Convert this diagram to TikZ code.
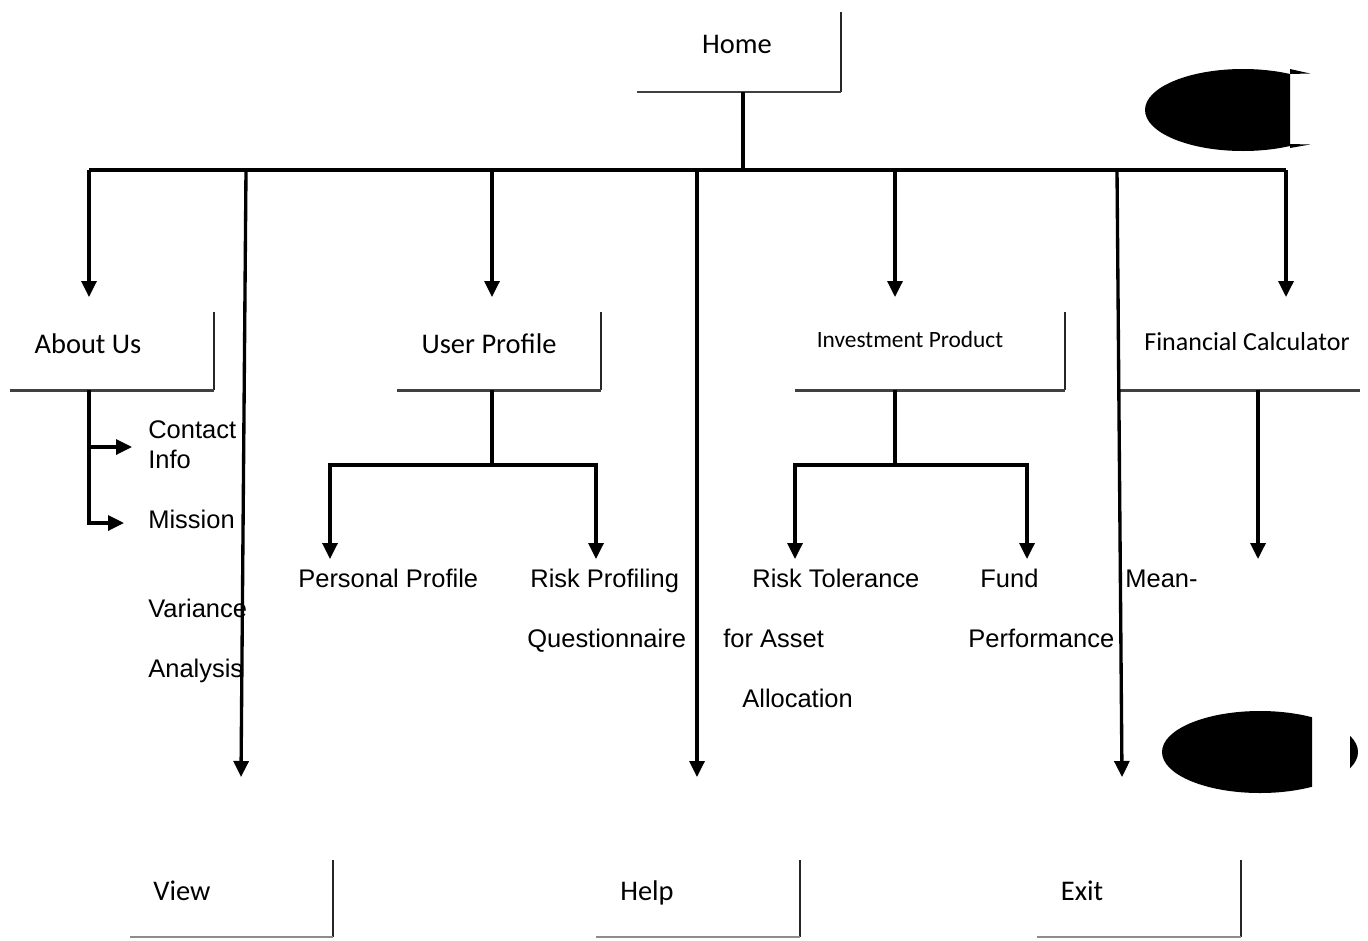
\documentclass[tikz,border=0pt]{standalone}
\usepackage{fontspec}
\setmainfont{Liberation Sans}
\newfontfamily\boxfont{Carlito}
\usetikzlibrary{arrows.meta,fit}

\tikzset{
  conn/.style={line width=1.9pt, black},
  arr/.style={conn, -{Triangle[length=0.32cm,width=0.3cm]}},
  boxtext/.style={font=\boxfont\fontsize{16.2}{19}\selectfont, inner sep=0pt, anchor=base},
  lbl/.style={font=\fontsize{14.5}{17}\selectfont, inner sep=0pt, anchor=base west},
  boxbottom/.style={line width=1.7pt, black!75},
  boxbottomlight/.style={line width=1.2pt, black!45},
  boxside/.style={line width=0.9pt, black!85},
  frame/.style={draw=none, inner sep=0pt, outer sep=0pt},
}

% menu box: name, bottom style, left, top, right, bottom, text x, text baseline, text
\newcommand\menubox[9]{%
  \node[frame, fit={(#3,#4) (#5,#6)}] (#1) {};
  \draw[boxside] (#1.north east) -- (#1.south east);
  \draw[#2] (#1.south west) -- (#1.south east);
  \node[boxtext] (#1-label) at (#7,#8) {#9};
}

\begin{document}
\begin{tikzpicture}[x=0.02cm, y=-0.02cm]
\useasboundingbox (0,0) rectangle (1368,940);

% menu boxes
\menubox{home}{boxbottom}{637}{12}{841}{92}{737}{53}{Home}
\menubox{about}{boxbottom}{10}{312}{214}{390}{88}{353}{About Us}
\menubox{user}{boxbottom}{397}{312}{601}{390}{489}{353}{User Profile}
\menubox{invest}{boxbottom}{795}{312}{1065}{390}{910}{347}{\fontsize{13.3}{15}\selectfont Investment Product}
\menubox{view}{boxbottomlight}{130}{860}{333}{937}{182}{900}{View}
\menubox{help}{boxbottomlight}{596}{860}{800}{937}{647}{900}{Help}
\menubox{exit}{boxbottomlight}{1037}{860}{1241}{937}{1082}{900}{Exit}

% financial calculator box (open to the right)
\node[frame, fit={(1120,312) (1360,390)}] (calc) {};
\draw[boxbottom] (calc.south west) -- (calc.south east);
\node[boxtext, font=\boxfont\fontsize{14.8}{17}\selectfont] (calc-label) at (1247,350) {Financial Calculator};

% decorative ovals on the right
\begin{scope}
  \clip (1130,60) rectangle (1290,160);
  \fill[black] (1243,110) ellipse [x radius=98, y radius=41];
\end{scope}
\fill[black] (1290,69) -- (1310,73.5) -- (1290,74) -- cycle;
\fill[black] (1290,148) -- (1310,144.5) -- (1290,144) -- cycle;
\begin{scope}
  \clip (1150,700) rectangle (1312,800) (1350,700) rectangle (1368,800);
  \fill[black] (1260,752) ellipse [x radius=98, y radius=41];
\end{scope}

% junction points
\coordinate (homeOut) at (743,92);
\coordinate (homeJ) at (743,170);
\coordinate (busL) at (89,170);
\coordinate (busR) at (1286,170);
\coordinate (busView) at (246,170);
\coordinate (busUser) at (492,170);
\coordinate (busHelp) at (697,170);
\coordinate (busInvest) at (895,170);
\coordinate (busExit) at (1117,170);

\coordinate (aboutIn) at (89,297);
\coordinate (userIn) at (492,297);
\coordinate (investIn) at (895,297);
\coordinate (calcIn) at (1286,297);
\coordinate (viewIn) at (241,777);
\coordinate (helpIn) at (697,777);
\coordinate (exitIn) at (1122,777);

% home to top bus
\draw[conn] (homeOut) -- (homeJ);
\draw[conn] (busL) -- (busR);

% bus to menus
\draw[arr] (busL) -- (aboutIn);
\draw[arr] (busUser) -- (userIn);
\draw[arr] (busInvest) -- (investIn);
\draw[arr] (busR) -- (calcIn);
\draw[arr] (busView) -- (viewIn);
\draw[arr] (busHelp) -- (helpIn);
\draw[arr] (busExit) -- (exitIn);

% About Us branch
\coordinate (aboutOut) at (89,390);
\coordinate (contactTip) at (132,447);
\coordinate (missionTip) at (124,523);
\draw[arr] (aboutOut) |- (contactTip);
\draw[arr] (aboutOut) |- (missionTip);

% User Profile branch
\coordinate (userOut) at (492,390);
\coordinate (userJ) at (492,465);
\coordinate (personalTip) at (330,559);
\coordinate (riskProfTip) at (596,559);
\draw[conn] (userOut) -- (userJ);
\draw[arr] (userJ) -| (personalTip);
\draw[arr] (userJ) -| (riskProfTip);

% Investment Product branch
\coordinate (investOut) at (895,390);
\coordinate (investJ) at (895,465);
\coordinate (riskTolTip) at (795,559);
\coordinate (fundTip) at (1027,559);
\draw[conn] (investOut) -- (investJ);
\draw[arr] (investJ) -| (riskTolTip);
\draw[arr] (investJ) -| (fundTip);

% Financial Calculator branch
\coordinate (calcOut) at (1258,390);
\coordinate (calcTip) at (1258,559);
\draw[arr] (calcOut) -- (calcTip);

% sub-page labels
\node[lbl] (contact) at (148,438) {Contact};
\node[lbl] (info) at (148,468) {Info};
\node[lbl] (mission) at (148,528) {Mission};
\node[lbl] (variance) at (148,617) {Variance};
\node[lbl] (analysis) at (148,677) {Analysis};
\node[lbl] (personal) at (298,587) {Personal Profile};
\node[lbl] (riskprof) at (530,587) {Risk Profiling};
\node[lbl] (questionnaire) at (527,647) {Questionnaire};
\node[lbl] (risktol) at (752,587) {Risk Tolerance};
\node[lbl] (forasset) at (723,647) {for Asset};
\node[lbl] (allocation) at (742,707) {Allocation};
\node[lbl] (fund) at (980,587) {Fund};
\node[lbl] (performance) at (968,647) {Performance};
\node[lbl] (mean) at (1125,587) {Mean-};

\end{tikzpicture}
\end{document}
